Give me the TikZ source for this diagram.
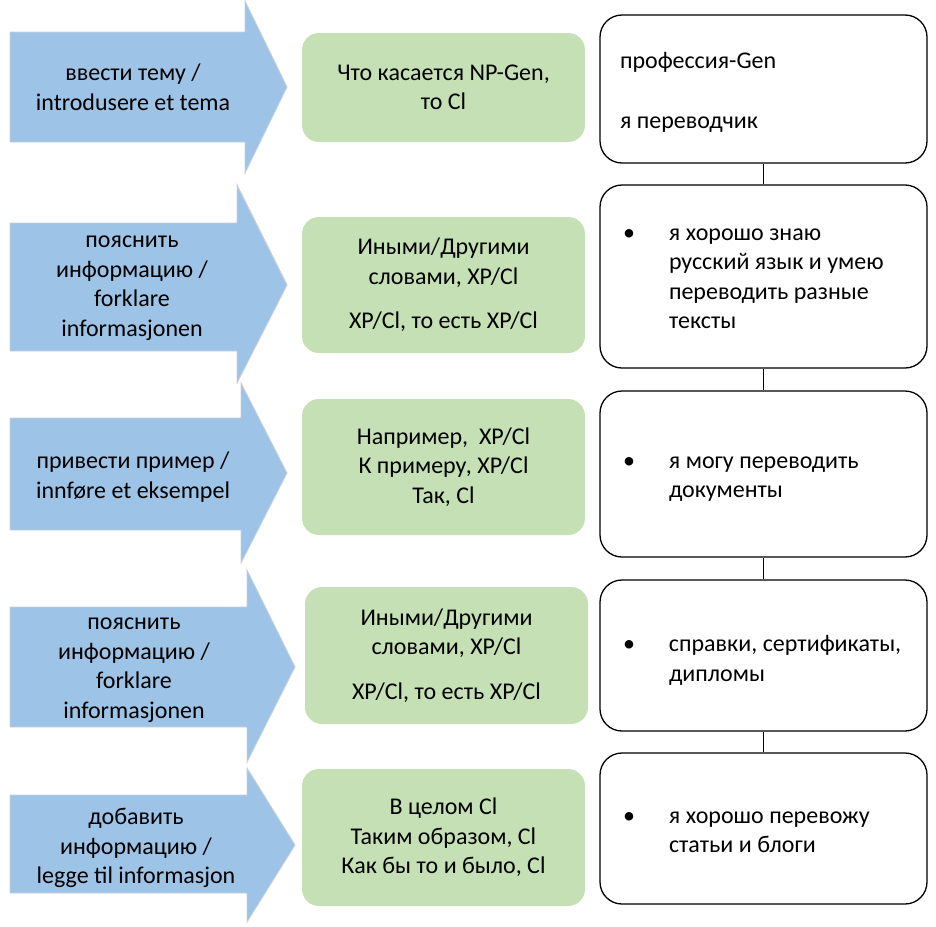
\documentclass[tikz,border=0pt]{standalone}
\usepackage{fontspec}
\setmainfont{Carlito}
\definecolor{arrowblue}{RGB}{157,195,230}
\definecolor{arrowrim}{RGB}{198,208,218}
\definecolor{boxgreen}{RGB}{197,224,180}
% bullet line followed by a left-aligned block of lines
\newcommand{\bulletlines}[1]{\makebox[46pt][l]{\textbullet}\begin{tabular}[t]{@{}l@{}}#1\end{tabular}}
% shift content down without changing the size it reports
\newcommand{\lowerby}[2]{\raisebox{-#1}[\height][\depth]{#2}}
\tikzset{
  bodytext/.style={font=\fontsize{24}{29.5}\selectfont,
    execute at begin node={\spaceskip=0pt\xspaceskip=0pt}},
  arrowshape/.style={fill=arrowblue, draw=arrowrim, line width=0.9pt, line join=miter},
  arrowlabel/.style={bodytext, align=center, inner sep=0pt},
  greenbox/.style={bodytext, rectangle, rounded corners=17pt, fill=boxgreen,
    minimum width=283pt, align=center, inner sep=0pt},
  whitebox/.style={bodytext, rectangle, rounded corners=22pt, draw=black, fill=white,
    line width=1.3pt, minimum width=327pt, text width=281pt, align=flush left,
    inner xsep=23pt, inner ysep=0pt},
  link/.style={draw=black, line width=0.8pt}
}
\begin{document}
\begin{tikzpicture}[x=1pt, y=-1pt]
\useasboundingbox (0,0) rectangle (936,926);

% left column: block arrows
\draw[arrowshape] (10,32) -- (245,32) -- (245,1) -- (287,87) -- (245,173) -- (245,142) -- (10,142) -- cycle;
\node[arrowlabel] (a1) at (133,87.5) {ввести тему /\\introdusere et tema};

\draw[arrowshape] (10,223) -- (237,223) -- (237,185) -- (287,285) -- (237,383) -- (237,351) -- (10,351) -- cycle;
\node[arrowlabel] (a2) at (132,288) {пояснить\\информацию /\\forklare\\informasjonen};

\draw[arrowshape] (10,418) -- (241,418) -- (241,383) -- (287,473) -- (241,563) -- (241,530) -- (10,530) -- cycle;
\node[arrowlabel] (a3) at (133,477) {привести пример /\\innføre et eksempel};

\draw[arrowshape] (10,607) -- (247,607) -- (247,570) -- (295,667) -- (247,762) -- (247,727) -- (10,727) -- cycle;
\node[arrowlabel] (a4) at (134,670) {пояснить\\информацию /\\forklare\\informasjonen};

\draw[arrowshape] (10,795) -- (247,795) -- (247,768) -- (295,845) -- (247,922) -- (247,893) -- (10,893) -- cycle;
\node[arrowlabel] (a5) at (136,848) {добавить\\информацию /\\legge til informasjon};

% middle column: phrase patterns
\node[greenbox, minimum height=109pt] (g1) at (443.5,87.5) {Что касается NP-Gen,\\то Cl};
\node[greenbox, minimum height=136pt] (g2) at (443.5,285) {Иными/Другими\\словами, XP/Cl\\[15pt]XP/Cl, то есть XP/Cl};
\node[greenbox, minimum height=136pt] (g3) at (443.5,467) {Например,\ \ XP/Cl\\К примеру, XP/Cl\\Так, Cl};
\node[greenbox, minimum height=137pt] (g4) at (446.5,655.5) {Иными/Другими\\словами, XP/Cl\\[15pt]XP/Cl, то есть XP/Cl};
\node[greenbox, minimum height=137pt] (g5) at (443.5,837.5) {В целом Cl\\Таким образом, Cl\\Как бы то и было, Cl};

% right column: example sentences
\node[whitebox, minimum height=148pt, inner xsep=20pt, text width=287pt] (w1) at (763.5,89)
  {\lowerby{3.5pt}{\begin{tabular}{@{}l@{}}профессия-Gen\\[30.5pt]я переводчик\end{tabular}}};
\node[whitebox, minimum height=183pt] (w2) at (763.5,276.5)
  {\lowerby{2pt}{\bulletlines{я хорошо знаю\\русский язык и умею\\переводить разные\\тексты}}};
\node[whitebox, minimum height=166pt] (w3) at (763.5,474)
  {\lowerby{3pt}{\bulletlines{я могу переводить\\документы}}};
\node[whitebox, minimum height=151pt] (w4) at (763.5,655.5)
  {\lowerby{5pt}{\bulletlines{справки, сертификаты,\\дипломы}}};
\node[whitebox, minimum height=151pt] (w5) at (763.5,828.5)
  {\lowerby{3.5pt}{\bulletlines{я хорошо перевожу\\статьи и блоги}}};

\draw[link] (w1.south) -- (w2.north);
\draw[link] (w2.south) -- (w3.north);
\draw[link] (w3.south) -- (w4.north);
\draw[link] (w4.south) -- (w5.north);
\end{tikzpicture}
\end{document}
